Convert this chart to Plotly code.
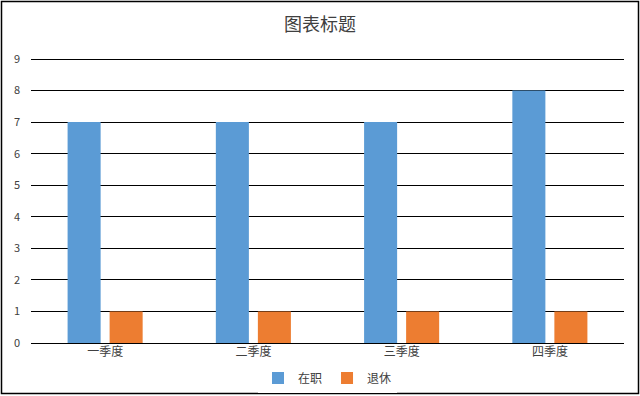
import plotly.graph_objects as go

categories = ["一季度", "二季度", "三季度", "四季度"]
zaizhi = [7, 7, 7, 8]
tuixiu = [1, 1, 1, 1]
y_ticks = [0, 1, 2, 3, 4, 5, 6, 7, 8, 9]

W, H = 640, 396
ml, mr, mt, mb = 31, 16, 56, 53
pw, ph = W - ml - mr, H - mt - mb

font_family = "Noto Sans CJK SC, Microsoft YaHei, sans-serif"

fig = go.Figure()
fig.add_trace(go.Bar(name="在职", x=categories, y=zaizhi, marker=dict(color="#5B9BD5", line=dict(width=0))))
fig.add_trace(go.Bar(name="退休", x=categories, y=tuixiu, marker=dict(color="#ED7D31", line=dict(width=0))))

def px_to_paper_x(p):
    return (p - ml) / pw

def px_to_paper_y(p):
    return (H - mb - p) / ph

fig.add_shape(type="rect", xref="paper", yref="paper",
              x0=px_to_paper_x(1.5), x1=px_to_paper_x(638.5),
              y0=px_to_paper_y(393.5), y1=px_to_paper_y(1.5),
              line=dict(color="black", width=1.5), fillcolor="rgba(0,0,0,0)", layer="above")

fig.update_layout(
    width=W, height=H, autosize=False,
    margin=dict(l=ml, r=mr, t=mt, b=mb, autoexpand=False),
    paper_bgcolor="white", plot_bgcolor="white",
    font=dict(family=font_family, color="#404040"),
    title=dict(text="图表标题", x=0.5, xanchor="center", yref="container", y=1 - 25 / H, yanchor="middle",
               font=dict(size=18, color="#404040", family=font_family)),
    barmode="group", bargap=0.433, bargroupgap=0.214,
    showlegend=True,
    legend=dict(orientation="h", x=0.5, xanchor="center", yref="container", y=1 - 378 / H, yanchor="middle",
                font=dict(size=12, color="#404040"), itemwidth=30, traceorder="normal"),
    xaxis=dict(showgrid=False, showline=False, ticks="", tickfont=dict(size=12, color="#404040")),
    yaxis=dict(range=[0, 9.095], tickvals=y_ticks, showgrid=True, gridcolor="black", gridwidth=1,
               zeroline=True, zerolinecolor="black", zerolinewidth=1, showline=False,
               ticks="", tickfont=dict(size=11, color="#404040"), ticklabelstandoff=10),
)

fig.write_html("out.html", post_script="document.body.style.margin='0';",
               config={"displayModeBar": False})
